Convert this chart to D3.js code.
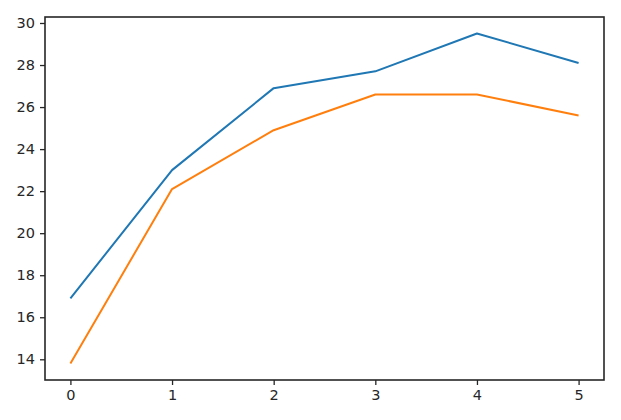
<!DOCTYPE html>
<html><head><meta charset="utf-8">
<script src="https://cdn.jsdelivr.net/npm/d3@7"></script>
<style>body{margin:0;background:#fff}svg{display:block}text{font-family:"DejaVu Sans";}</style>
</head><body><svg id="c" width="621" height="420"></svg>
<script>
const xValues = [0, 1, 2, 3, 4, 5];
const blueSeries = [16.9, 23.0, 26.9, 27.7, 29.5, 28.1];
const orangeSeries = [13.8, 22.1, 24.9, 26.6, 26.6, 25.6];
const yTicks = [14, 16, 18, 20, 22, 24, 26, 28, 30];
const xTicks = [0, 1, 2, 3, 4, 5];

const svg = d3.select("#c");
const L = 45, R = 604, T = 17, B = 380;
const x = d3.scaleLinear().domain([-0.25, 5.25]).range([L, R]);
const y = d3.scaleLinear().domain([13.015, 30.285]).range([B, T]);

const line = d3.line().x((d, i) => x(xValues[i])).y(d => y(d));
svg.append("path").datum(blueSeries).attr("d", line).attr("fill", "none")
  .attr("stroke", "#1f77b4").attr("stroke-width", 2).attr("stroke-linejoin", "round");
svg.append("path").datum(orangeSeries).attr("d", line).attr("fill", "none")
  .attr("stroke", "#ff7f0e").attr("stroke-width", 2).attr("stroke-linejoin", "round");

const yAxis = d3.axisLeft(y).tickValues(yTicks).tickSize(5).tickPadding(5).tickFormat(d3.format("d"));
const xAxis = d3.axisBottom(x).tickValues(xTicks).tickSize(5).tickPadding(5).tickFormat(d3.format("d"));
const gy = svg.append("g").attr("transform", `translate(${L},0)`).call(yAxis);
const gx = svg.append("g").attr("transform", `translate(0,${B})`).call(xAxis);
[gx, gy].forEach(g => {
  g.select(".domain").remove();
  g.selectAll("line").attr("stroke", "#262626").attr("stroke-width", 1.3);
  g.selectAll("text").attr("fill", "#262626").style("font-size", "14.5px").style("font-family", "DejaVu Sans");
});
svg.append("rect").attr("x", L).attr("y", T).attr("width", R - L).attr("height", B - T)
  .attr("fill", "none").attr("stroke", "#262626").attr("stroke-width", 1.6);
</script></body></html>
